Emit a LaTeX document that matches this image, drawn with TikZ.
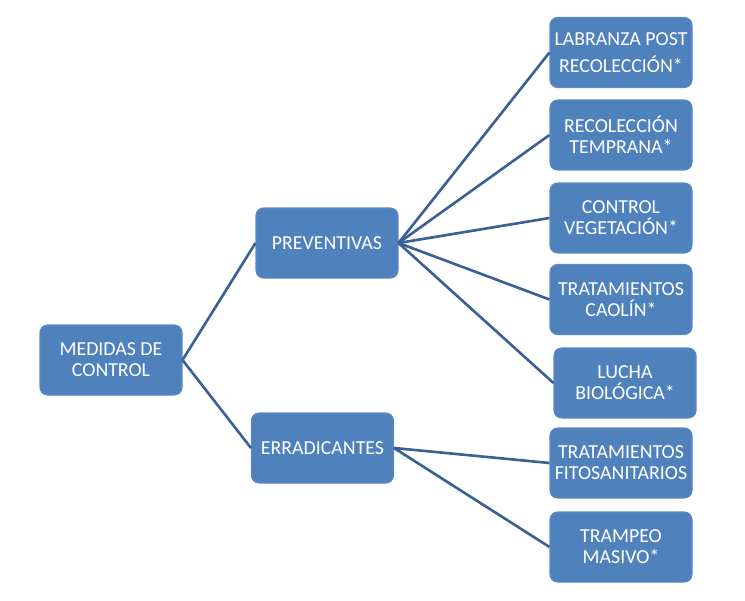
\documentclass[tikz,border=0pt]{standalone}
\usepackage{fontspec}
\setmainfont{Carlito}
\definecolor{cajaazul}{HTML}{4F81BD}
\definecolor{bordeazul}{HTML}{5A8AC4}
\definecolor{lineaazul}{HTML}{3A6195}
\tikzset{
  caja/.style={draw=bordeazul, line width=0.6pt, fill=cajaazul, rounded corners=0.15cm,
    minimum width=2.84cm, minimum height=1.4cm, text=white, align=center,
    font=\fontsize{11.3}{12}\selectfont, inner sep=1pt},
  rama/.style={draw=lineaazul, line width=1.5pt}
}
\begin{document}
\begin{tikzpicture}
                \useasboundingbox (0,0) rectangle (14.9,12);
                % Left boxes
                \node[caja] (medidas) at (2.22,4.80) {MEDIDAS DE\\CONTROL};
                \node[caja] (preventivas) at (6.54,7.14) {PREVENTIVAS};
                \node[caja] (erradicantes) at (6.45,3.04) {ERRADICANTES};
                % Right boxes
                \node[caja, font=\fontsize{11.3}{15.3}\selectfont] (labranza) at (12.42,10.95) {LABRANZA POST\\RECOLECCIÓN*};
                \node[caja] (temprana) at (12.42,9.30) {RECOLECCIÓN\\TEMPRANA*};
                \node[caja] (vegetacion) at (12.42,7.64) {CONTROL\\VEGETACIÓN*};
                \node[caja] (caolin) at (12.42,6.01) {TRATAMIENTOS\\CAOLÍN*};
                \node[caja] (lucha) at (12.50,4.34) {LUCHA\\BIOLÓGICA*};
                \node[caja] (fito) at (12.42,2.74) {TRATAMIENTOS\\FITOSANITARIOS};
                \node[caja] (trampeo) at (12.42,1.06) {TRAMPEO\\MASIVO*};
                % Branches
                \draw[rama] (medidas.east) -- (preventivas.west);
                \draw[rama] (medidas.east) -- (erradicantes.west);
                \foreach \hoja in {labranza,temprana,vegetacion,caolin,lucha}
                  \draw[rama] (preventivas.east) -- (\hoja.west);
                \draw[rama] (erradicantes.east) -- (fito.west);
                \draw[rama] (erradicantes.east) -- (trampeo.west);
              \end{tikzpicture}
\end{document}
